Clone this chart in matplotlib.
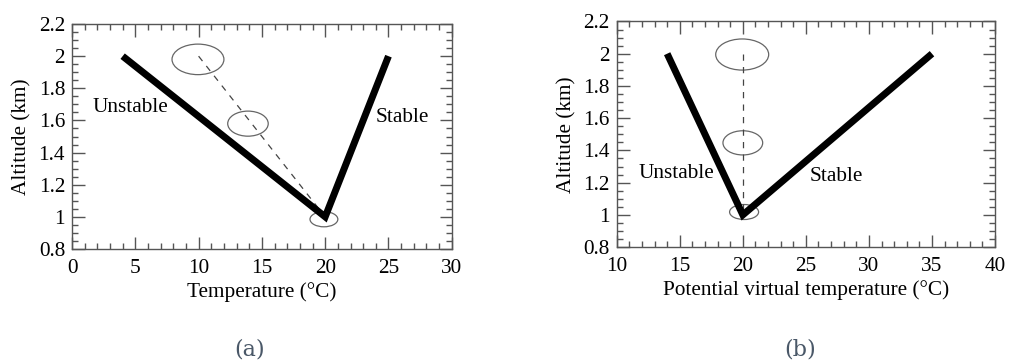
import matplotlib
matplotlib.use("Agg")
import matplotlib.pyplot as plt
from matplotlib.patches import Ellipse
from matplotlib.ticker import MultipleLocator

plt.rcParams['font.family'] = ['Liberation Serif', 'DejaVu Serif']

# panel (a): temperature profile
temp_a = [4, 20, 25]
alt_a = [2.0, 1.0, 2.0]
parcel_a_x = [10, 20]
parcel_a_y = [2.0, 1.0]
ell_a = [(9.95, 1.98, 4.1, 0.19), (13.9, 1.58, 3.2, 0.156), (19.9, 0.985, 2.2, 0.094)]
text_a = [("Unstable", 1.6, 1.68), ("Stable", 24.0, 1.62)]

# panel (b): potential virtual temperature profile
temp_b = [14, 20, 35]
alt_b = [2.0, 1.0, 2.0]
parcel_b_x = [20, 20]
parcel_b_y = [2.0, 1.0]
ell_b = [(19.95, 1.995, 4.2, 0.193), (20.0, 1.447, 3.15, 0.15), (20.1, 1.018, 2.3, 0.093)]
text_b = [("Unstable", 11.7, 1.255), ("Stable", 25.3, 1.24)]

fig = plt.figure(figsize=(10.1, 3.64), dpi=100)
ax1 = fig.add_axes([0.0713, 0.316, 0.376, 0.618])
ax2 = fig.add_axes([0.6106, 0.321, 0.3746, 0.620])

frame = '#555555'
fs = 15.3

def style(ax, xlim, xlabel):
    ax.set_xlim(*xlim)
    ax.set_ylim(0.8, 2.2)
    ax.xaxis.set_major_locator(MultipleLocator(5))
    ax.xaxis.set_minor_locator(MultipleLocator(1))
    ax.yaxis.set_major_locator(MultipleLocator(0.2))
    ax.yaxis.set_minor_locator(MultipleLocator(0.05))
    ax.yaxis.set_major_formatter(plt.FuncFormatter(lambda v, p: ('%g' % round(v, 2))))
    ax.tick_params(which='both', direction='in', top=True, right=True,
                   color=frame, labelsize=fs, width=1)
    ax.tick_params(which='major', length=9)
    ax.tick_params(which='minor', length=4.5)
    ax.tick_params(axis='x', which='major', pad=7)
    ax.tick_params(axis='y', which='major', pad=5)
    for s in ax.spines.values():
        s.set_color(frame)
        s.set_linewidth(1)
    ax.set_xlabel(xlabel, fontsize=fs, labelpad=3)
    ax.set_ylabel("Altitude (km)", fontsize=fs, labelpad=5)

for ax, tx, ty, px, py, ells, txt, xlim, xl in [
        (ax1, temp_a, alt_a, parcel_a_x, parcel_a_y, ell_a, text_a, (0, 30), "Temperature (\u00b0C)"),
        (ax2, temp_b, alt_b, parcel_b_x, parcel_b_y, ell_b, text_b, (10, 40), "Potential virtual temperature (\u00b0C)")]:
    ax.plot(px, py, color='#444444', lw=0.9, dashes=(5, 5))
    for cx, cy, w, h in ells:
        ax.add_patch(Ellipse((cx, cy), w, h, fill=False, edgecolor='#666666', lw=0.9))
    ax.plot(tx, ty, color='black', lw=5, solid_capstyle='butt', solid_joinstyle='miter')
    for s, x, y in txt:
        ax.text(x, y, s, fontsize=fs, va='center', ha='left')
    style(ax, xlim, xl)

fig.text(0.2475, 0.04, "(a)", fontsize=16, color='#4a5868', ha='center', va='center',
         family=['DejaVu Serif'])
fig.text(0.792, 0.04, "(b)", fontsize=16, color='#4a5868', ha='center', va='center',
         family=['DejaVu Serif'])

fig.savefig("out.png", dpi=100)
